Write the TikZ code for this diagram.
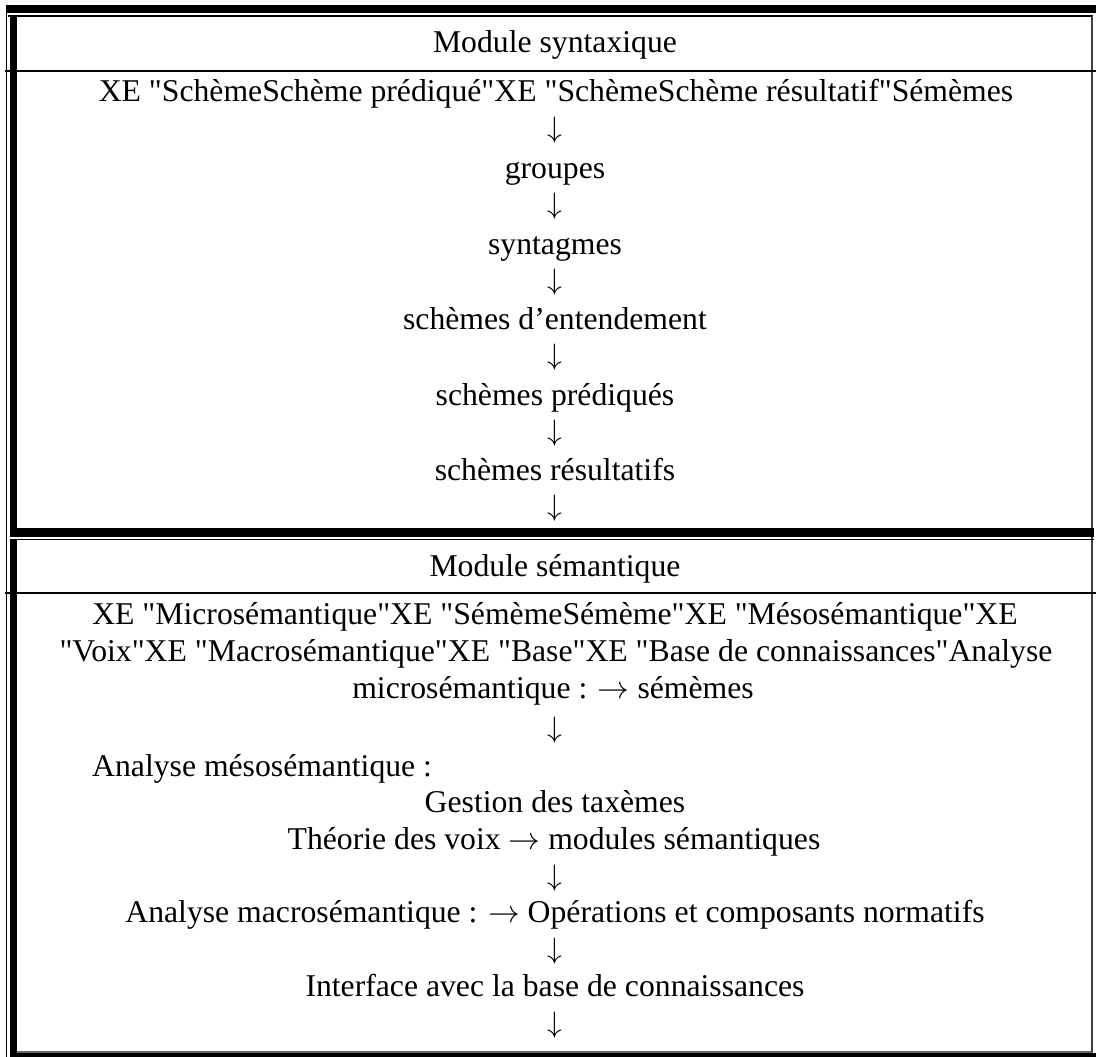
\RequirePackage{fix-cm}
\documentclass[tikz,border=0pt]{standalone}
\usepackage{fontspec}
\setmainfont{Liberation Serif}[Ligatures=TeXOff]
\newcommand{\rarr}{$\rightarrow$}
\begin{document}
\begin{tikzpicture}[x=1pt,y=-1pt,
  txt/.style={font=\fontsize{31.7}{37}\selectfont, inner sep=0pt, anchor=base},
  arr/.style={font=\fontsize{29.5}{34}\selectfont, inner sep=0pt, anchor=center},
  thinrule/.style={line width=1.4pt, black},
]
\useasboundingbox (0,0) rectangle (1096,1057);
\fill[white] (0,0) rectangle (1096,1057);
% ---- borders ----
\fill[black] (6,5) rectangle (1096,13);
\draw[thinrule] (8,16) -- (1093,16);
\draw[line width=1.2pt] (6.5,13) -- (6.5,1057);
\fill[black] (9.5,16) rectangle (17,528);
\fill[black] (9.5,539) rectangle (17,1057);
\draw[line width=2pt, black!75] (1092,16) -- (1092,1053);
\draw[thinrule] (5,71) -- (1096,71);
\draw[thinrule] (5,593) -- (1096,593);
\fill[black] (10,528) rectangle (1094,537);
\draw[thinrule] (10,539.5) -- (1094,539.5);
\draw[line width=1.2pt, black!60] (17,1052) -- (1092,1052);
\fill[black] (10,1053) rectangle (1096,1057);
% ---- module syntaxique ----
\node[txt] (ms) at (555,53) {Module syntaxique};
\node[txt] (l1) at (556,102) {XE "SchèmeSchème prédiqué"XE "SchèmeSchème résultatif"Sémèmes};
\node[arr] (a1) at (555,130) {$\downarrow$};
\node[txt] (l2) at (555,178) {groupes};
\node[arr] (a2) at (555,206) {$\downarrow$};
\node[txt] (l3) at (555,254) {syntagmes};
\node[arr] (a3) at (555,282) {$\downarrow$};
\node[txt] (l4) at (555,329) {schèmes d’entendement};
\node[arr] (a4) at (555,357) {$\downarrow$};
\node[txt] (l5) at (555,405) {schèmes prédiqués};
\node[arr] (a5) at (555,433) {$\downarrow$};
\node[txt] (l6) at (555,480) {schèmes résultatifs};
\node[arr] (a6) at (555,508) {$\downarrow$};
% ---- module semantique ----
\node[txt] (mse) at (555,576) {Module sémantique};
\node[txt] (p1) at (555,624) {XE "Microsémantique"XE "SémèmeSémème"XE "Mésosémantique"XE};
\node[txt] (p2) at (556,661) {"Voix"XE "Macrosémantique"XE "Base"XE "Base de connaissances"Analyse};
\node[txt] (p3) at (553,698) {microsémantique : \rarr{} sémèmes};
\node[arr] (b1) at (555,730) {$\downarrow$};
\node[txt, anchor=base west] (m1) at (92,776) {Analyse mésosémantique :};
\node[txt] (m2) at (555,812) {Gestion des taxèmes};
\node[txt] (m3) at (554,849) {Théorie des voix \rarr{} modules sémantiques};
\node[arr] (b2) at (555,878) {$\downarrow$};
\node[txt] (m4) at (555,922) {Analyse macrosémantique : \rarr{} Opérations et composants normatifs};
\node[arr] (b3) at (555,951) {$\downarrow$};
\node[txt] (m5) at (555,996) {Interface avec la base de connaissances};
\node[arr] (b4) at (555,1025) {$\downarrow$};
\end{tikzpicture}
\end{document}
